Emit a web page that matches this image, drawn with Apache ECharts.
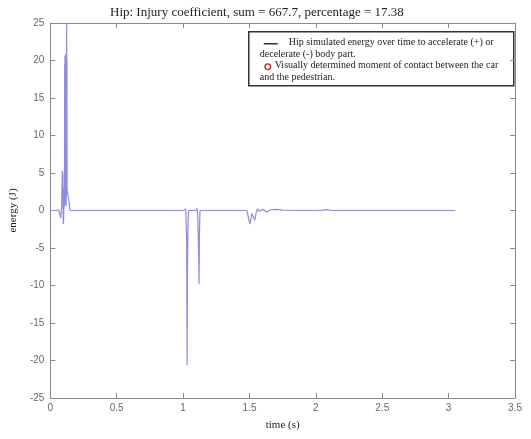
<!DOCTYPE html>
<html>
<head>
<meta charset="utf-8">
<script src="https://cdn.jsdelivr.net/npm/echarts@6/dist/echarts.min.js"></script>
<style>html,body{margin:0;padding:0;background:#fff}#c{width:531px;height:439px}</style>
</head>
<body>
<div id="c"></div>
<script>
const titleText = 'Hip: Injury coefficient, sum = 667.7, percentage = 17.38';
const xName = 'time (s)';
const yName = 'energy (J)';
const legendLine1 = 'Hip simulated energy over time to accelerate (+) or';
const legendLine2 = 'decelerate (-) body part.';
const legendLine3 = 'Visually determined moment of contact between the car';
const legendLine4 = 'and the pedestrian.';

const times = [
  0, 0.04, 0.06, 0.07, 0.078, 0.085, 0.09, 0.094, 0.097, 0.1, 0.103, 0.106,
  0.108, 0.109, 0.110, 0.111, 0.112, 0.113, 0.114, 0.115, 0.116, 0.117, 0.118, 0.119,
  0.120, 0.121, 0.122, 0.123, 0.124, 0.125, 0.126,
  0.129, 0.133, 0.137, 0.142, 0.148, 0.16, 0.4, 0.8, 1.0, 1.02, 1.024, 1.027, 1.03, 1.033, 1.036, 1.04,
  1.07, 1.1, 1.105, 1.11, 1.115, 1.12, 1.123, 1.127, 1.2, 1.4, 1.48, 1.495, 1.503, 1.51, 1.518,
  1.528, 1.54, 1.55, 1.56, 1.575, 1.6, 1.63, 1.66, 1.7, 1.75, 1.85, 2.0, 2.05, 2.08, 2.12, 2.3, 2.6, 2.9, 3.05
];
const energy = [
  0, 0, 0.1, -0.3, -1.0, 0.5, 5.3, 4.8, -1.8, -1.5, 3.0, 0.5,
  19.5, 0.8, 20.6, 1.5, 19.0, 2.5, 20.8, 1.0, 20.2, 2.0, 19.8, 0.6,
  21.0, 1.8, 20.4, 25.0, 3.0, 20.0, 2.8,
  2.5, 2.4, 2.5, 1.0, 0, 0, 0, 0, 0, 0.2, 0, -4.0, -20.6, -8.0, -3.0, 0,
  0, 0, 0.3, -0.5, -4.0, -9.8, -3.0, 0, 0, 0, 0, -0.2, -1.8, -1.9, -0.4,
  -0.2, -1.3, -0.3, 0.2, -0.1, 0.15, -0.2, 0.1, 0.15, 0.05, 0, 0, 0.05, 0.12, 0, 0, 0, 0, 0
];
const contactTimes = [0.075, 1.025];
const contactValues = [0.0, 0.3];

const lineData = times.map((t, i) => [t, energy[i]]);
const contactData = contactTimes.map((t, i) => [t, contactValues[i]]);

const serif = '"Liberation Serif", "DejaVu Serif", serif';
const sans = '"Liberation Sans", Arial, sans-serif';
const axisCol = '#8a8a8a';

function frameAxis(extra) {
  return Object.assign({
    type: 'value',
    axisLine: {show: true, onZero: false, lineStyle: {color: axisCol, width: 1}},
    axisTick: {show: true, inside: true, length: 5, lineStyle: {color: axisCol}},
    splitLine: {show: false}
  }, extra);
}

const chart = echarts.init(document.getElementById('c'), null, {renderer: 'canvas'});
chart.setOption({
  animation: false,
  backgroundColor: '#fff',
  title: {
    text: titleText, left: 105, top: 1,
    textStyle: {fontFamily: serif, fontSize: 13, fontWeight: 'normal', color: '#222'}
  },
  grid: {left: 49, right: 16, top: 23, bottom: 41},
  xAxis: [
    frameAxis({min: 0, max: 3.5, interval: 0.5, position: 'bottom',
      name: xName, nameLocation: 'middle', nameGap: 22,
      nameTextStyle: {fontFamily: serif, fontSize: 11, color: '#222'},
      axisLabel: {fontFamily: sans, fontSize: 10, color: '#666', margin: 5}}),
    frameAxis({min: 0, max: 3.5, interval: 0.5, position: 'top', axisLabel: {show: false}})
  ],
  yAxis: [
    frameAxis({min: -25, max: 25, interval: 5, position: 'left',
      name: yName, nameLocation: 'middle', nameGap: 28,
      nameTextStyle: {fontFamily: serif, fontSize: 11, color: '#222'},
      axisLabel: {fontFamily: sans, fontSize: 10, color: '#666', margin: 6}}),
    frameAxis({min: -25, max: 25, interval: 5, position: 'right', axisLabel: {show: false}})
  ],
  series: [{
    type: 'line', xAxisIndex: 0, yAxisIndex: 0, data: lineData,
    showSymbol: false, symbol: 'none',
    lineStyle: {color: '#8f8cdc', width: 1.2}
  }, {
    type: 'scatter', xAxisIndex: 0, yAxisIndex: 0, data: contactData,
    symbol: 'emptyCircle', symbolSize: 5,
    itemStyle: {color: '#fff', borderColor: '#d06080', borderWidth: 1}
  }],
  graphic: [{
    type: 'group', left: 248, top: 31,
    children: [
      {type: 'rect', shape: {x: 0, y: 0, width: 265, height: 54},
       style: {fill: '#fff', stroke: '#333', lineWidth: 1.5}},
      {type: 'line', shape: {x1: 15, y1: 12, x2: 29, y2: 12},
       style: {stroke: '#333', lineWidth: 1.5}},
      {type: 'text', x: 40, y: 6, style: {text: legendLine1, font: '10px ' + serif, fill: '#222'}},
      {type: 'text', x: 11, y: 18, style: {text: legendLine2, font: '10px ' + serif, fill: '#222'}},
      {type: 'circle', shape: {cx: 19, cy: 35, r: 2.8},
       style: {fill: 'none', stroke: '#d02030', lineWidth: 1.3}},
      {type: 'text', x: 26, y: 29, style: {text: legendLine3, font: '10px ' + serif, fill: '#222'}},
      {type: 'text', x: 11, y: 41, style: {text: legendLine4, font: '10px ' + serif, fill: '#222'}}
    ]
  }]
});
</script>
</body>
</html>
